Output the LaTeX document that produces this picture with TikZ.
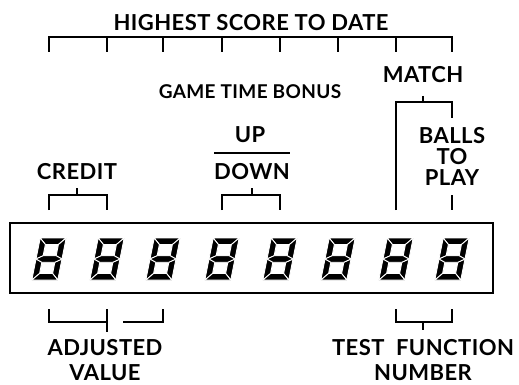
\documentclass[tikz,border=0pt]{standalone}
\usepackage{fontspec}
\setmainfont{Lato}[LetterSpace=2]
\usetikzlibrary{calc}

\tikzset{
  lbl/.style={font=\bfseries\fontsize{22}{25}\selectfont, inner sep=0pt, align=center},
  small/.style={font=\bfseries\fontsize{19}{20}\selectfont, inner sep=0pt},
  brk/.style={line width=1.6pt},
  seg/.style={fill=black, draw=white, line width=0.9pt, line join=miter},
  pics/led/.style={code={
    \begin{scope}[xslant=0.2]
      \def\a{13}\def\b{21}\def\t{6.5}
      % outer segments
      \filldraw[seg] (-\a,-\b) -- (\a,-\b) -- (\a-\t,-\b+\t) -- (-\a+\t,-\b+\t) -- cycle;
      \filldraw[seg] (\a,-\b) -- (\a,0) -- (\a-\t,-\t/2) -- (\a-\t,-\b+\t) -- cycle;
      \filldraw[seg] (-\a,-\b) -- (-\a+\t,-\b+\t) -- (-\a+\t,-\t/2) -- (-\a,0) -- cycle;
      \filldraw[seg] (\a,0) -- (\a,\b) -- (\a-\t,\b-\t) -- (\a-\t,\t/2) -- cycle;
      \filldraw[seg] (-\a,0) -- (-\a+\t,\t/2) -- (-\a+\t,\b-\t) -- (-\a,\b) -- cycle;
      \filldraw[seg] (-\a,\b) -- (-\a+\t,\b-\t) -- (\a-\t,\b-\t) -- (\a,\b) -- cycle;
      % middle segment
      \filldraw[seg] (-\a,0) -- (-\a+\t,-\t/2) -- (\a-\t,-\t/2) -- (\a,0) -- (\a-\t,\t/2) -- (-\a+\t,\t/2) -- cycle;
    \end{scope}
  }}
}

\begin{document}
\begin{tikzpicture}[x=1pt,y=-1pt]
  \useasboundingbox (0,0) rectangle (519,385);

  % display window and its eight digits
  \draw[line width=2.6pt] (10,223) rectangle (493,293);
  \foreach \n/\x in {1/49,2/107,3/163,4/222,5/280,6/338,7/396,8/452} {
    \coordinate (d\n) at (\x,259);
    \pic at (d\n) {led};
  }

  % highest score
  \node[lbl] (high) at (251,23) {HIGHEST SCORE TO DATE};
  \draw[brk] (d1 |- 0,52) -- (d1 |- 0,37) -- (d8 |- 0,37) -- (d8 |- 0,52);
  \foreach \n in {2,...,7}
    \draw[brk] (d\n |- 0,37) -- (d\n |- 0,52);

  \node[small] (bonus) at (250,92) {GAME TIME BONUS};

  % match / balls to play
  \node[lbl] (match) at (423,75) {MATCH};
  \draw[brk] (d7 |- 0,210) -- (d7 |- 0,102) -- (d8 |- 0,102) -- (d8 |- 0,118);
  \draw[brk] (match |- 0,96) -- (match |- 0,102);
  \node[lbl] (balls) at (452,156) {BALLS\\[-4pt]TO\\[-4pt]PLAY};
  \draw[brk] (d8 |- 0,195) -- (d8 |- 0,210);

  % up / down
  \node[lbl] (up) at (250,135) {UP};
  \node[lbl] (down) at (252,172) {DOWN};
  \draw[brk] (down.west |- 0,153) -- (down.east |- 0,153);
  \draw[brk] (d4 |- 0,210) -- (d4 |- 0,195) -- (d5 |- 0,195) -- (d5 |- 0,210);
  \draw[brk] (down |- 0,188) -- (down |- 0,195);

  % credit
  \node[lbl] (credit) at (77,172) {CREDIT};
  \draw[brk] (d1 |- 0,210) -- (d1 |- 0,195) -- (d2 |- 0,195) -- (d2 |- 0,210);
  \draw[brk] (credit |- 0,188) -- (credit |- 0,195);

  % adjusted value
  \node[lbl] (adjust) at (105,360) {ADJUSTED\\VALUE};
  \draw[brk] (d1 |- 0,309) -- (d1 |- 0,322) -- (d2 |- 0,322);
  \draw[brk] (d2 |- 0,309) -- (d2 |- 0,332);
  \draw[brk] (123,322) -- (d3 |- 0,322) -- (d3 |- 0,309);

  % test function number
  \node[lbl] (test) at (423,360) {TEST\ \ FUNCTION\\NUMBER};
  \draw[brk] (d7 |- 0,309) -- (d7 |- 0,322) -- (d8 |- 0,322) -- (d8 |- 0,309);
  \draw[brk] (test |- 0,322) -- (test |- 0,330);
\end{tikzpicture}
\end{document}
